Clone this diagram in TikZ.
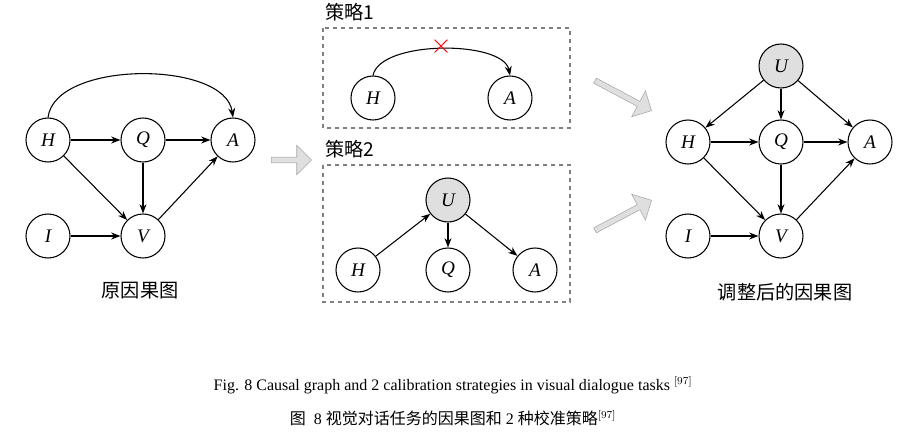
\documentclass[tikz,border=0pt]{standalone}
\usepackage{fontspec}
\setmainfont{Liberation Serif}
\newfontfamily\cjk{Noto Sans CJK SC}
\usetikzlibrary{shapes.arrows,arrows.meta}
\begin{document}
\begin{tikzpicture}[x=0.75pt,y=-0.75pt,
 v/.style={circle,draw,thick,minimum size=33pt,inner sep=0pt,font=\Large\itshape},
 u/.style={v,fill=gray!25},
 e/.style={-{Stealth[length=7pt]},thick},
 bigarr/.style={single arrow,draw=gray!70,fill=gray!25,minimum height=#1,single arrow head extend=5pt,minimum width=22pt,inner sep=1pt},
 cl/.style={font=\cjk\Large},
 box/.style={draw=gray,dashed,thick}]
\useasboundingbox (0,0) rectangle (906,443);
% left
\node[v] (H1) at (48,140) {H};
\node[v] (Q1) at (143,140) {Q};
\node[v] (A1) at (233,140) {A};
\node[v] (I1) at (48,236) {I};
\node[v] (V1) at (143,236) {V};
\draw[e] (H1)--(Q1); \draw[e] (Q1)--(A1); \draw[e] (Q1)--(V1);
\draw[e] (I1)--(V1); \draw[e] (H1)--(V1); \draw[e] (V1)--(A1);
\draw[e] (H1.north) .. controls (55,60) and (225,60) .. (A1.north);
\node[cl] (l1) at (140,291) {原因果图};
\node[bigarr=30pt] (ar0) at (290,160) {};
% box1
\draw[box] (323,28) rectangle (570,128);
\node[font=\cjk\Large] (s1) at (350,12) {策略1};
\node[v] (H2) at (373,98) {H};
\node[v] (A2) at (510,98) {A};
\draw[e] (H2.north) .. controls (380,40) and (503,40) .. (A2.north);
\node[text=red,font=\huge] (x) at (441,47) {$\times$};
% box2
\draw[box] (323,165) rectangle (570,302);
\node[font=\cjk\Large] (s2) at (350,149) {策略2};
\node[u] (U3) at (448,200) {U};
\node[v] (H3) at (358,270) {H};
\node[v] (Q3) at (448,270) {Q};
\node[v] (A3) at (535,270) {A};
\draw[e] (H3)--(U3); \draw[e] (U3)--(Q3); \draw[e] (U3)--(A3);
\node[bigarr=48pt,rotate=-28] (ar1) at (622,95) {};
\node[bigarr=48pt,rotate=28] (ar2) at (622,216) {};
% right
\node[u] (U4) at (781,66) {U};
\node[v] (H4) at (688,142) {H};
\node[v] (Q4) at (781,142) {Q};
\node[v] (A4) at (870,142) {A};
\node[v] (I4) at (688,236) {I};
\node[v] (V4) at (781,236) {V};
\draw[e] (H4)--(Q4); \draw[e] (Q4)--(A4); \draw[e] (Q4)--(V4);
\draw[e] (I4)--(V4); \draw[e] (H4)--(V4); \draw[e] (V4)--(A4);
\draw[e] (U4)--(Q4); \draw[e] (U4)--(H4); \draw[e] (U4)--(A4);
\node[cl] (l4) at (785,292) {调整后的因果图};
\node[font=\large] (c1) at (453,385) {Fig. 8 Causal graph and 2 calibration strategies in visual dialogue tasks $^{[97]}$};
\node[font=\large] (c2) at (453,418) {{\cjk 图}\ \ 8 {\cjk 视觉对话任务的因果图和} 2 {\cjk 种校准策略}$^{[97]}$};
\end{tikzpicture}
\end{document}
